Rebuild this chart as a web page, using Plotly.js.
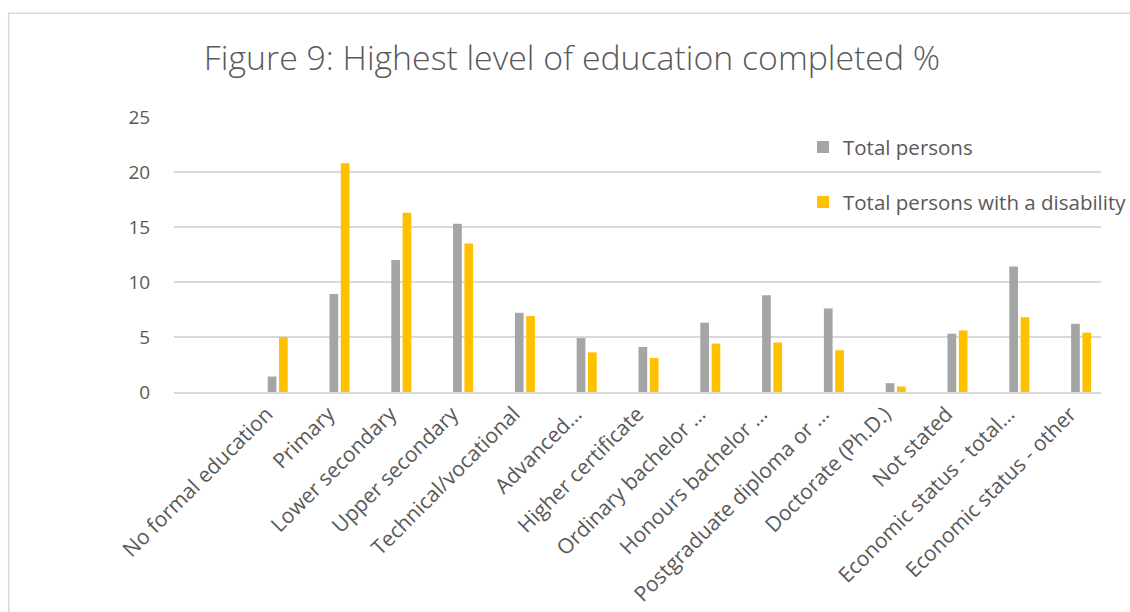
<!DOCTYPE html>
<html>
<head>
<meta charset="utf-8">
<script src="https://cdn.plot.ly/plotly-3.0.1.min.js"></script>
<style>html,body{margin:0;padding:0;background:#fff;}#chart{width:1130px;height:612px;}</style>
</head>
<body>
<div id="chart"></div>
<script>
var categories = ["No formal education", "Primary", "Lower secondary", "Upper secondary", "Technical/vocational", "Advanced…", "Higher certificate", "Ordinary bachelor …", "Honours bachelor …", "Postgraduate diploma or …", "Doctorate (Ph.D.)", "Not stated", "Economic status - total…", "Economic status - other"];
var totalPersons = [1.4, 8.9, 12.0, 15.3, 7.2, 4.9, 4.1, 6.3, 8.8, 7.6, 0.8, 5.3, 11.4, 6.2];
var totalDisability = [5.0, 20.8, 16.3, 13.5, 6.9, 3.6, 3.1, 4.4, 4.5, 3.8, 0.5, 5.6, 6.8, 5.4];
var yTicks = [0, 5, 10, 15, 20, 25];

var L = 174, R = 1101, T = 116.7, B = 392.5, W = 1130, H = 612;
var pw = R - L, ph = B - T;

var traces = [
  {type: 'bar', name: 'Total persons', x: categories, y: totalPersons,
   offset: 0.016, width: 0.141, marker: {color: '#A5A5A5'}, legend: 'legend', hoverinfo: 'y'},
  {type: 'bar', name: 'Total persons with a disability', x: categories, y: totalDisability,
   offset: 0.199, width: 0.141, marker: {color: '#FFC000'}, legend: 'legend2', hoverinfo: 'y'}
];

var fontFam = 'Open Sans, sans-serif';
var layout = {
  width: W, height: H,
  margin: {l: L, r: W - R, t: T, b: H - B, pad: 0, autoexpand: false},
  paper_bgcolor: '#ffffff', plot_bgcolor: '#ffffff',
  barmode: 'overlay',
  font: {family: fontFam, color: '#595959', size: 18},
  title: {text: 'Figure 9: Highest level of education completed %', font: {family: fontFam, size: 33.8, color: '#595959', weight: 300},
          x: 572 / W, xref: 'container', xanchor: 'center', y: 1 - 58 / H, yref: 'container', yanchor: 'middle'},
  xaxis: {type: 'category', range: [-1.5, 13.5], tickangle: -45, showgrid: false,
          showline: true, linecolor: '#D9D9D9', linewidth: 1.5, ticks: '', tickfont: {size: 21, color: '#595959'}, automargin: false},
  yaxis: {range: [0, 25], tickvals: yTicks, showgrid: true, gridcolor: '#D9D9D9', gridwidth: 1.5,
          zeroline: false, showline: false, ticks: 'outside', ticklen: 19, tickcolor: 'rgba(0,0,0,0)',
          tickfont: {size: 19, color: '#595959'}, automargin: false},
  legend: {x: (803 - L) / pw, y: (B - 127) / ph, xanchor: 'left', yanchor: 'top',
           font: {size: 20.5, color: '#595959'}, bgcolor: 'rgba(0,0,0,0)', itemwidth: 30},
  legend2: {x: (803 - L) / pw, y: (B - 182) / ph, xanchor: 'left', yanchor: 'top',
           font: {size: 20.5, color: '#595959'}, bgcolor: 'rgba(0,0,0,0)', itemwidth: 30},
  shapes: [{type: 'rect', xref: 'paper', yref: 'paper',
            x0: (8.7 - L) / pw, x1: (1140 - L) / pw, y0: (B - 620) / ph, y1: (B - 12.7) / ph,
            line: {color: '#D9D9D9', width: 1.5}, fillcolor: 'rgba(0,0,0,0)', layer: 'below'}],
  showlegend: true
};

Plotly.newPlot('chart', traces, layout, {displayModeBar: false, staticPlot: true});
</script>
</body>
</html>
